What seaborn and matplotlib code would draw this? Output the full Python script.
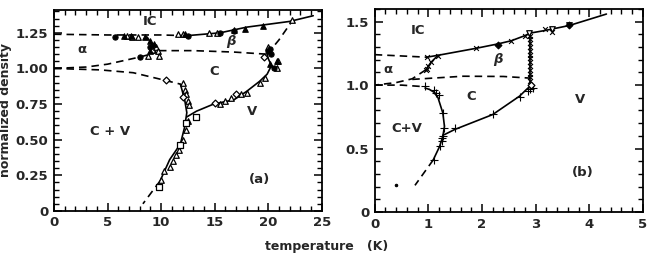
import matplotlib
matplotlib.use("Agg")
import matplotlib.pyplot as plt
from matplotlib.ticker import MultipleLocator, FixedLocator
import seaborn as sns

sns.set_style("ticks")
plt.rcParams['font.family'] = ['DejaVu Sans']
plt.rcParams['font.weight'] = 'bold'

# ---------------- panel (a) lines ----------------
a_top_dash_x = [0, 5, 10, 12.4]
a_top_dash_y = [1.24, 1.235, 1.235, 1.23]
a_top_x = [12.4, 15.5, 18, 22, 24.2]
a_top_y = [1.23, 1.25, 1.29, 1.33, 1.37]
a_alpha_x = [0, 3, 5, 8, 9.5]
a_alpha_y = [1.0, 1.01, 1.03, 1.08, 1.11]
a_cluster_x = [8.7, 9.2, 9.5]
a_cluster_y = [1.22, 1.16, 1.11]
a_ctop_x = [9.8, 13, 16.8, 19.9]
a_ctop_y = [1.125, 1.125, 1.115, 1.10]
a_cv_dash_x = [0, 4.3, 7.4, 9.9, 11.8]
a_cv_dash_y = [1.0, 0.99, 0.97, 0.925, 0.89]
a_cv_x = [11.8, 12.2, 12.4, 12.2, 11.8, 10.8, 9.9]
a_cv_y = [0.89, 0.78, 0.69, 0.59, 0.47, 0.36, 0.21]
a_cv_low_x = [9.9, 8.3]
a_cv_low_y = [0.21, 0.05]
a_v_x = [12.4, 13.3, 14.9, 16.8, 18, 19.2, 19.9, 20.3, 20.0, 19.9]
a_v_y = [0.66, 0.70, 0.75, 0.78, 0.84, 0.91, 0.96, 1.02, 1.07, 1.10]
a_bv_x = [19.9, 21, 22.3]
a_bv_y = [1.10, 1.2, 1.34]

# ---------------- panel (a) points ----------------
a_fcirc_x = [5.7, 8.0, 9.0, 12.5, 15.5, 16.8, 20.2, 20.0, 20.3, 20.5]
a_fcirc_y = [1.22, 1.08, 1.15, 1.23, 1.25, 1.26, 1.14, 1.12, 1.10, 1.0]
a_ftri_x = [6.5, 7.2, 8.5, 9.0, 9.3, 9.0, 12.2, 16.8, 17.8, 19.5, 20.2, 20.8]
a_ftri_y = [1.23, 1.23, 1.22, 1.19, 1.17, 1.12, 1.24, 1.27, 1.28, 1.30, 1.03, 1.05]
a_otri_x = [6.8, 7.3, 7.8, 9.5, 9.7, 8.8, 9.8, 11.6, 12.0, 14.5, 15.2, 22.2,
            20.8, 20.9, 19.7, 19.2, 18.0, 17.5, 16.5, 16.0, 15.5, 20.0,
            12.0, 12.2, 12.3, 12.5, 12.6, 12.5, 12.3, 12.0, 11.7, 11.4,
            11.1, 10.8, 10.3, 10.0]
a_otri_y = [1.23, 1.22, 1.22, 1.15, 1.12, 1.09, 1.09, 1.24, 1.24, 1.25, 1.25, 1.34,
            1.0, 1.05, 0.93, 0.90, 0.83, 0.82, 0.79, 0.77, 0.75, 1.15,
            0.90, 0.85, 0.82, 0.77, 0.74, 0.63, 0.57, 0.50, 0.43, 0.39,
            0.35, 0.31, 0.28, 0.22]
a_diam_x = [10.5, 12.0, 15.0, 17.0, 19.6]
a_diam_y = [0.92, 0.80, 0.76, 0.82, 1.08]
a_sq_x = [13.3, 9.8, 11.8, 12.3]
a_sq_y = [0.66, 0.17, 0.46, 0.62]

# ---------------- panel (b) lines ----------------
b_top_dash_x = [0, 0.97]
b_top_dash_y = [1.24, 1.22]
b_top_x = [0.97, 1.18, 1.89, 2.3, 2.55, 2.8, 2.9, 3.17, 3.63, 4.32]
b_top_y = [1.22, 1.235, 1.29, 1.325, 1.35, 1.39, 1.41, 1.43, 1.47, 1.56]
b_ab_x = [1.18, 1.05, 0.95]
b_ab_y = [1.235, 1.18, 1.12]
b_ab_dash_x = [0.95, 0.7, 0.4, 0]
b_ab_dash_y = [1.12, 1.05, 1.02, 1.0]
b_ctop_x = [0.7, 1.65, 2.4, 2.9]
b_ctop_y = [1.045, 1.07, 1.068, 1.055]
b_vert_x = [2.9, 2.9]
b_vert_y = [1.41, 1.0]
b_v_x = [2.92, 2.83, 2.7, 2.2, 1.49, 1.3]
b_v_y = [1.0, 0.966, 0.913, 0.768, 0.65, 0.61]
b_cv_dash_x = [0, 0.5, 0.84, 1.02]
b_cv_dash_y = [1.0, 1.0, 0.99, 0.966]
b_cv_x = [1.02, 1.12, 1.18, 1.27, 1.3, 1.27, 1.21, 1.09]
b_cv_y = [0.966, 0.94, 0.9, 0.78, 0.675, 0.596, 0.517, 0.41]
b_cv_low_x = [1.09, 0.75]
b_cv_low_y = [0.41, 0.21]

# ---------------- panel (b) points ----------------
b_x_x = [0.97, 1.18, 1.89, 2.55, 2.8, 3.17, 3.3, 1.05, 1.0, 0.97, 0.95,
         2.9, 2.9, 2.9, 2.9, 2.9, 2.9, 2.9, 2.9, 2.9, 2.9, 2.9, 2.9, 2.9]
b_x_y = [1.22, 1.23, 1.29, 1.35, 1.39, 1.44, 1.42, 1.18, 1.15, 1.13, 1.12,
         1.03, 1.06, 1.09, 1.12, 1.15, 1.18, 1.21, 1.24, 1.27, 1.30, 1.33, 1.36, 1.39]
b_dtri_x = [2.88, 3.3, 3.63]
b_dtri_y = [1.41, 1.44, 1.47]
b_fdiam_x = [2.3, 3.62]
b_fdiam_y = [1.32, 1.47]
b_plus_x = [0.93, 1.1, 1.15, 1.2, 1.28, 1.3, 1.27, 1.25, 1.22, 1.1, 1.5, 2.2,
            2.7, 2.85, 2.9, 2.95, 1.25]
b_plus_y = [0.99, 0.96, 0.94, 0.92, 0.78, 0.66, 0.60, 0.56, 0.52, 0.41, 0.66, 0.77,
            0.91, 0.95, 0.97, 0.98, 0.58]
b_odiam_x = [2.92]
b_odiam_y = [1.0]
b_dot_x = [0.4]
b_dot_y = [0.21]

a_yticks = [0, 0.25, 0.5, 0.75, 1.0, 1.25]
a_ylabels = ['0', '0.25', '0.50', '0.75', '1.00', '1.25']
a_xticks = [0, 5, 10, 15, 20, 25]
b_yticks = [0, 0.5, 1.0, 1.5]
b_ylabels = ['0', '0.5', '1.0', '1.5']
b_xticks = [0, 1, 2, 3, 4, 5]

fig = plt.figure(figsize=(6.54, 2.64), dpi=100)
ax1 = fig.add_axes([0.0826, 0.201, 0.4094, 0.761])
ax2 = fig.add_axes([0.573, 0.197, 0.410, 0.769])


def line(ax, x, y, dashed=False):
    sns.lineplot(x=x, y=y, ax=ax, sort=False, estimator=None, color='black',
                 lw=1.2, linestyle=(0, (4.5, 3)) if dashed else '-')


def pts(ax, x, y, marker, filled, s=16):
    if filled:
        sns.scatterplot(x=x, y=y, ax=ax, marker=marker, s=s, color='black',
                        edgecolor='black', linewidth=0.8, zorder=3)
    else:
        sns.scatterplot(x=x, y=y, ax=ax, marker=marker, s=s, facecolor='white',
                        edgecolor='black', linewidth=0.9, zorder=3)


# panel (a)
line(ax1, a_top_dash_x, a_top_dash_y, True)
line(ax1, a_top_x, a_top_y)
line(ax1, a_alpha_x, a_alpha_y, True)
line(ax1, a_cluster_x, a_cluster_y)
line(ax1, a_ctop_x, a_ctop_y, True)
line(ax1, a_cv_dash_x, a_cv_dash_y, True)
line(ax1, a_cv_x, a_cv_y)
line(ax1, a_cv_low_x, a_cv_low_y, True)
line(ax1, a_v_x, a_v_y)
line(ax1, a_bv_x, a_bv_y, True)
pts(ax1, a_otri_x, a_otri_y, '^', False)
pts(ax1, a_diam_x, a_diam_y, 'D', False, 12)
pts(ax1, a_sq_x, a_sq_y, 's', False, 22)
pts(ax1, a_fcirc_x, a_fcirc_y, 'o', True, 14)
pts(ax1, a_ftri_x, a_ftri_y, '^', True)

ax1.set_xlim(0, 25)
ax1.set_ylim(0, 1.41)
ax1.xaxis.set_major_locator(FixedLocator(a_xticks))
ax1.xaxis.set_minor_locator(MultipleLocator(1))
ax1.yaxis.set_major_locator(FixedLocator(a_yticks))
ax1.yaxis.set_minor_locator(MultipleLocator(0.05))
ax1.set_yticklabels(a_ylabels)
ax1.set_xticklabels([str(v) for v in a_xticks])
ax1.set_ylabel('normalized density', fontsize=9, fontweight='bold', labelpad=3)

txt = dict(fontsize=9.5, fontweight='bold', ha='center', va='center')
ax1.text(9, 1.33, 'IC', **txt)
ax1.text(2.6, 1.13, 'α', **txt)
ax1.text(16.5, 1.19, 'β', style='italic', **txt)
ax1.text(15, 0.98, 'C', **txt)
ax1.text(18.5, 0.70, 'V', **txt)
ax1.text(5.2, 0.56, 'C + V', **txt)
ax1.text(19.2, 0.22, '(a)', **txt)

# panel (b)
line(ax2, b_top_dash_x, b_top_dash_y, True)
line(ax2, b_top_x, b_top_y)
line(ax2, b_ab_x, b_ab_y)
line(ax2, b_ab_dash_x, b_ab_dash_y, True)
line(ax2, b_ctop_x, b_ctop_y, True)
line(ax2, b_vert_x, b_vert_y)
line(ax2, b_v_x, b_v_y)
line(ax2, b_cv_dash_x, b_cv_dash_y, True)
line(ax2, b_cv_x, b_cv_y)
line(ax2, b_cv_low_x, b_cv_low_y, True)
pts(ax2, b_x_x, b_x_y, 'x', True, 12)
pts(ax2, b_plus_x, b_plus_y, '+', True, 28)
pts(ax2, b_dtri_x, b_dtri_y, 'v', False)
pts(ax2, b_odiam_x, b_odiam_y, 'D', False, 12)
pts(ax2, b_fdiam_x, b_fdiam_y, 'D', True, 12)
pts(ax2, b_dot_x, b_dot_y, 'o', True, 3)

ax2.set_xlim(0, 5)
ax2.set_ylim(0, 1.6)
ax2.xaxis.set_major_locator(FixedLocator(b_xticks))
ax2.xaxis.set_minor_locator(MultipleLocator(0.2))
ax2.yaxis.set_major_locator(FixedLocator(b_yticks))
ax2.yaxis.set_minor_locator(MultipleLocator(0.1))
ax2.set_yticklabels(b_ylabels)
ax2.set_xticklabels([str(v) for v in b_xticks])

ax2.text(0.8, 1.43, 'IC', **txt)
ax2.text(0.25, 1.12, 'α', **txt)
ax2.text(2.3, 1.2, 'β', style='italic', **txt)
ax2.text(1.8, 0.91, 'C', **txt)
ax2.text(3.82, 0.89, 'V', **txt)
ax2.text(0.6, 0.66, 'C+V', **txt)
ax2.text(3.88, 0.31, '(b)', **txt)

for ax in (ax1, ax2):
    ax.tick_params(which='both', direction='in', top=True, right=True,
                   labelsize=9.5, color='black')
    ax.tick_params(which='major', length=5.5, width=1.1, pad=4)
    ax.tick_params(which='minor', length=3.5, width=1.0)
    for lab in ax.get_xticklabels() + ax.get_yticklabels():
        lab.set_fontweight('bold')
    for sp in ax.spines.values():
        sp.set_linewidth(1.3)
        sp.set_color('black')

fig.text(0.5, 0.065, 'temperature   (K)', ha='center', va='center',
         fontsize=9, fontweight='bold')

fig.savefig('out.png', dpi=100)
